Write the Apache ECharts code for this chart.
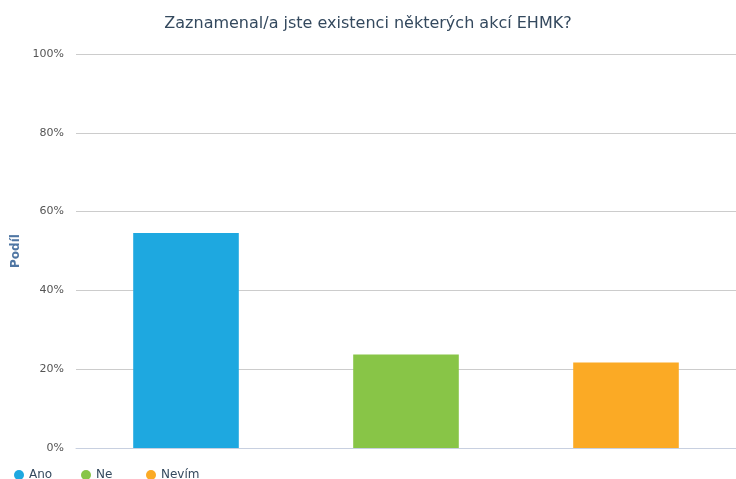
<!DOCTYPE html>
<html>
<head>
<meta charset="utf-8">
<script src="https://cdn.jsdelivr.net/npm/echarts@6/dist/echarts.min.js"></script>
<style>
  html, body { margin: 0; padding: 0; background: #fff; }
  #chart { width: 736px; height: 479px; }
</style>
</head>
<body>
<div id="chart"></div>
<script>
// data
var categories = ['Ano', 'Ne', 'Nevím'];
var values = [54.6, 23.7, 21.7];
var colors = ['#1ea8e0', '#88c547', '#fbaa25'];
var yTicks = [0, 20, 40, 60, 80, 100];

var chart = echarts.init(document.getElementById('chart'));

// each answer is its own series so the legend shows all three
var series = categories.map(function (name, i) {
  var row = categories.map(function (c, j) { return j === i ? values[i] : '-'; });
  return {
    name: name,
    type: 'bar',
    stack: 'one',
    barWidth: '48%',
    itemStyle: { color: colors[i] },
    data: row
  };
});

// legend items sit at fixed steps, one legend per answer
var legendLeft = [14, 81, 146];
var legends = categories.map(function (name, i) {
  return {
    data: [name],
    left: legendLeft[i],
    top: 469,
    padding: 0,
    icon: 'circle',
    itemWidth: 10,
    itemHeight: 10,
    textStyle: { fontSize: 12, color: '#34495e' }
  };
});

var option = {
  textStyle: { fontFamily: 'DejaVu Sans' },
  title: {
    text: 'Zaznamenal/a jste existenci některých akcí EHMK?',
    left: 'center',
    top: 11,
    textStyle: { fontSize: 16, fontWeight: 'normal', color: '#34495e', fontFamily: 'DejaVu Sans' }
  },
  legend: legends,
  grid: { left: 76, right: 0, top: 54, bottom: 31 },
  xAxis: {
    type: 'category',
    data: categories,
    axisTick: { alignWithLabel: true, length: 5, lineStyle: { color: '#c0c0c0' } },
    axisLine: { lineStyle: { color: '#c8d0e0' } },
    axisLabel: { show: false }
  },
  yAxis: {
    type: 'value',
    min: yTicks[0],
    max: yTicks[yTicks.length - 1],
    interval: 20,
    name: 'Podíl',
    nameLocation: 'middle',
    nameGap: 54,
    nameTextStyle: { color: '#4f76a3', fontWeight: 'bold', fontSize: 12 },
    axisLabel: { formatter: '{value}%', color: '#555', fontSize: 11, margin: 12 },
    splitLine: { lineStyle: { color: '#cccccc' } }
  },
  series: series
};

chart.setOption(option);
</script>
</body>
</html>
